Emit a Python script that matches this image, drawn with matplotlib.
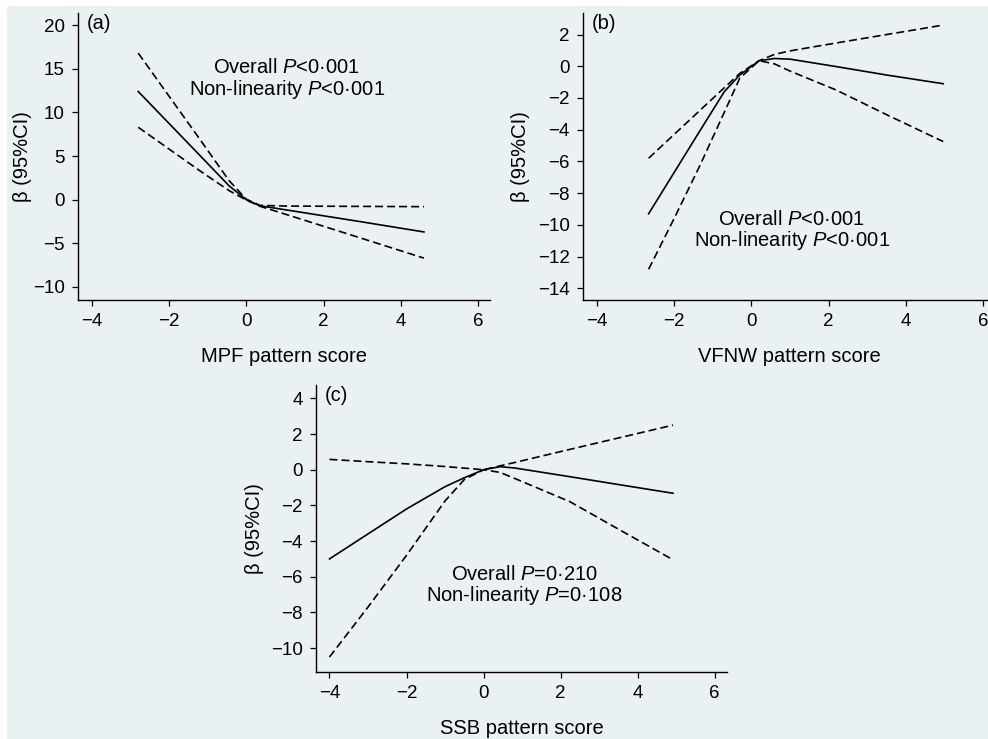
import matplotlib
matplotlib.use("Agg")
import matplotlib.pyplot as plt
from matplotlib.patches import Rectangle

plt.rcParams['font.family'] = ['Liberation Sans', 'DejaVu Sans']
plt.rcParams['mathtext.fontset'] = 'custom'
plt.rcParams['mathtext.it'] = 'Liberation Sans:italic'
plt.rcParams['mathtext.rm'] = 'Liberation Sans'

# ---- data ----
# (a) MPF pattern score
x_a = [-2.8, -2.0, -1.2, -0.45, 0.0, 0.35, 1.0, 2.0, 3.0, 4.6]
beta_a = [12.4, 8.73, 5.06, 1.6, 0.0, -0.7, -1.15, -1.85, -2.55, -3.7]
upper_a = [16.8, 11.85, 6.9, 2.2, 0.05, -0.65, -0.73, -0.75, -0.77, -0.8]
lower_a = [8.3, 5.8, 3.3, 1.05, -0.05, -0.75, -1.65, -3.05, -4.45, -6.7]

# (b) VFNW pattern score
x_b = [-2.66, -2.0, -1.34, -0.7, -0.3, 0.2, 0.6, 1.0, 2.2, 3.5, 4.97]
beta_b = [-9.3, -6.7, -4.1, -1.6, -0.55, 0.35, 0.49, 0.45, -0.02, -0.55, -1.1]
upper_b = [-5.8, -4.3, -2.8, -1.35, -0.45, 0.35, 0.75, 0.97, 1.47, 2.0, 2.6]
lower_b = [-12.8, -9.6, -6.3, -2.9, -0.75, 0.35, 0.15, -0.3, -1.5, -3.05, -4.75]

# (c) SSB pattern score
x_c = [-4.0, -3.0, -2.0, -1.0, -0.5, 0.0, 0.43, 0.8, 2.24, 3.5, 4.92]
beta_c = [-5.0, -3.6, -2.2, -0.95, -0.45, 0.0, 0.17, 0.1, -0.39, -0.83, -1.32]
upper_c = [0.58, 0.45, 0.33, 0.18, 0.09, 0.0, 0.22, 0.4, 1.14, 1.78, 2.5]
lower_c = [-10.5, -7.7, -4.8, -1.75, -0.55, 0.0, -0.15, -0.48, -1.79, -3.33, -5.05]

xticks = [-4, -2, 0, 2, 4, 6]
yticks_a = [-10, -5, 0, 5, 10, 15, 20]
yticks_b = [-14, -12, -10, -8, -6, -4, -2, 0, 2]
yticks_c = [-10, -8, -6, -4, -2, 0, 2, 4]

bg = '#e9f1f3'
W, H = 988, 739
fig = plt.figure(figsize=(W / 100, H / 100), dpi=100, facecolor='white')
fig.add_artist(Rectangle((7 / W, 0), 1, 1 - 6 / H, transform=fig.transFigure,
                         facecolor=bg, edgecolor='none', zorder=-10))


def px_axes(left, top, right, bottom):
    return fig.add_axes([left / W, 1 - bottom / H, (right - left) / W, (bottom - top) / H])


panels = [
    dict(box=(78, 13, 490, 300), x=x_a, b=beta_a, u=upper_a, l=lower_a,
         xlim=(-4.36, 6.31), ylim=(-11.5, 21.4), yt=yticks_a, tag='(a)',
         xlabel='MPF pattern score',
         txt=['Overall $P$<0·001', 'Non-linearity $P$<0·001'], ty=(0.81, 0.735), ylx=-46),
    dict(box=(583, 13, 995, 300), x=x_b, b=beta_b, u=upper_b, l=lower_b,
         xlim=(-4.36, 6.31), ylim=(-14.74, 3.36), yt=yticks_b, tag='(b)',
         xlabel='VFNW pattern score',
         txt=['Overall $P$<0·001', 'Non-linearity $P$<0·001'], ty=(0.279, 0.207), ylx=-53),
    dict(box=(316, 385, 727, 672), x=x_c, b=beta_c, u=upper_c, l=lower_c,
         xlim=(-4.35, 6.32), ylim=(-11.34, 4.75), yt=yticks_c, tag='(c)',
         xlabel='SSB pattern score',
         txt=['Overall $P$=0·210', 'Non-linearity $P$=0·108'], ty=(0.339, 0.265), ylx=-52),
]

for p in panels:
    ax = px_axes(*p['box'])
    ax.set_facecolor(bg)
    ax.plot(p['x'], p['b'], color='black', lw=1.2)
    for ci in (p['u'], p['l']):
        ax.plot(p['x'], ci, color='black', lw=1.2, dashes=(4.8, 2.4))
    ax.set_xlim(*p['xlim'])
    ax.set_ylim(*p['ylim'])
    ax.set_xticks(xticks)
    ax.set_yticks(p['yt'])
    for s in ('top', 'right'):
        ax.spines[s].set_visible(False)
    for s in ('left', 'bottom'):
        ax.spines[s].set_linewidth(1.0)
    ax.tick_params(length=4.5, width=0.9, labelsize=13.5, pad=5)
    ax.set_xlabel(p['xlabel'], fontsize=14.5)
    ax.set_ylabel('β (95%CI)', fontsize=14.5)
    w = p['box'][2] - p['box'][0]
    h = p['box'][3] - p['box'][1]
    ax.yaxis.set_label_coords(p['ylx'] / w, 0.5)
    ax.xaxis.set_label_coords(0.5, -47 / h)
    ax.text(0.022, 0.995, p['tag'], transform=ax.transAxes, fontsize=14.5, va='top', ha='left')
    for t, yy in zip(p['txt'], p['ty']):
        ax.text(0.507, yy, t, transform=ax.transAxes, fontsize=14.5, ha='center', va='center')

fig.savefig('out.png', dpi=100, facecolor=fig.get_facecolor())
